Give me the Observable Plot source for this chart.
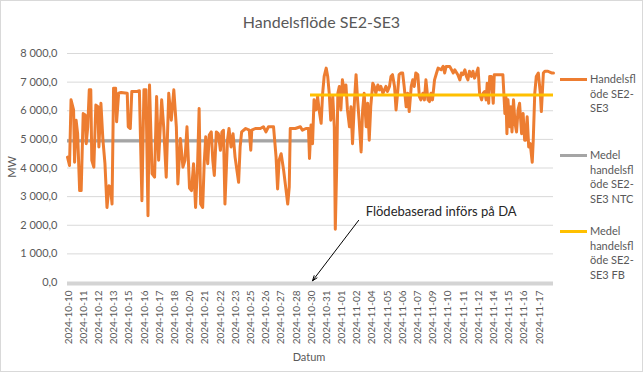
<!DOCTYPE html>
<html><head><meta charset="utf-8">
<script src="https://cdn.jsdelivr.net/npm/d3@7"></script>
<script src="https://cdn.jsdelivr.net/npm/@observablehq/plot@0.6"></script>
<style>
body{margin:0;background:#fff;font-family:Lato,"Open Sans",sans-serif;}
#chart{position:relative;width:643px;height:372px;overflow:hidden;background:#fff;}
#frame{position:absolute;left:0;top:0;width:641px;height:370px;border:1px solid #d9d9d9;pointer-events:none;}
#title{position:absolute;left:0;width:643px;top:12px;line-height:20px;text-align:center;font-size:16px;color:#595959;}
.axt{position:absolute;font-size:11px;color:#595959;line-height:14px;white-space:nowrap;}
.leg{position:absolute;left:560px;}
.sw{position:absolute;left:0;width:27px;height:3px;top:6px;}
.lt{position:absolute;left:30px;top:0;font-size:11px;line-height:14.5px;color:#595959;white-space:nowrap;}
#plot{position:absolute;left:0;top:0;}
</style></head>
<body>
<div id="chart">
  <div id="plot"></div>
  <div id="title">Handelsflöde SE2-SE3</div>
  <div class="axt" style="left:12px;top:167px;transform:translate(-50%,-50%) rotate(-90deg);">MW</div>
  <div class="axt" style="left:309px;top:357px;transform:translate(-50%,-50%);">Datum</div>
  <div class="leg" style="top:72px"><span class="sw" style="background:#ED7D31"></span><div class="lt">Handelsfl<br>öde SE2-<br>SE3</div></div>
  <div class="leg" style="top:148px"><span class="sw" style="background:#A5A5A5"></span><div class="lt">Medel<br>handelsfl<br>öde SE2-<br>SE3 NTC</div></div>
  <div class="leg" style="top:224px"><span class="sw" style="background:#FFC000"></span><div class="lt">Medel<br>handelsfl<br>öde SE2-<br>SE3 FB</div></div>
  <div id="frame"></div>
</div>
<script>
// Hour offsets from 2024-10-10 00:00 and trade flow (MW)
const hours = [0,4,7,12,14,17,20,24,27,31,35,37,40,43,46,48,52,56,60,62,66,70,74,78,82,85,88,91,95,97,101,106,118,120,124,127,136,142,147,151,155,159,162,167,172,176,180,186,190,195,200,205,210,215,218,223,228,232,236,241,245,
249,253,257,260,263,267,270,273,277,280,284,287,290,294,298,302,305,308,311,316,319,323,327,331,338,341,344,352,359,362,364,371,381,387,392,397,407,412,415,418,422,427,431,435,438,440,450,460,464,471,476,478,481,
484,487,491,494,497,501,504,507,511,514,517,520,524,527,529,532,534,537,540,543,547,550,553,557,560,563,567,570,573,576,580,583,586,590,593,596,599,603,606,609,613,616,619,623,626,629,632,636,639,642,646,649,652,655,659,662,665,669,672,675,679,682,685,688,692,695,698,702,705,708,712,715,718,721,725,
729,732,738,742,745,748,755,762,765,771,775,778,781,785,788,791,794,798,801,804,808,811,814,818,821,824,827,829,832,834,837,841,843,847,854,860,864,866,868,870,874,876,878,881,884,887,890,893,897,900,903,905,908,911,914,918,920,923,926,930,934,936,940,943,949,956,960];
const flow = [4380,4090,6380,6030,4200,5670,5200,3210,3210,5900,5850,4850,5440,6730,6730,4270,4030,6200,6140,4735,6260,4970,4150,2620,3380,3330,2740,6790,6790,5615,6610,6640,6610,5440,5380,6670,6670,6700,2860,6730,6730,2330,6900,3800,3680,6500,4270,6380,5440,3680,6610,5670,6730,5440,3440,5030,4030,4270,5440,3300,3210,
4150,2620,4150,6080,2740,2620,4150,5090,4150,5150,5260,4270,3740,5260,5200,4620,5260,5320,2740,4970,5380,4735,5200,4380,3500,4735,5260,5380,5320,4620,5320,5380,5380,5440,5260,5440,5440,4380,3270,4270,4500,3910,3330,2740,3330,5380,5380,5440,5320,5380,5380,4330,5500,
4850,6380,6030,6500,6030,5560,6610,7200,7490,7200,6610,5670,6500,5440,1860,4270,6610,6850,6030,7080,6610,6900,6030,5440,6140,4850,6380,7260,6380,5670,4560,6030,6610,5440,6260,4970,6140,6960,6850,6610,6900,6730,6850,6610,6730,6850,6670,6850,7200,7260,6850,6030,6610,7260,7320,7320,6850,6140,6610,5970,6850,7080,6850,7320,7260,6500,6380,6610,6380,7080,6380,6320,6610,6380,7080,
7320,7490,7430,7550,7320,7550,7550,7320,7430,7260,7080,7320,7260,7430,7200,7080,7380,7200,7380,7140,7320,7490,6610,6380,6610,6670,6380,6960,6260,7200,7200,6260,7260,7260,7260,7260,5900,6500,5200,6380,5440,6140,5260,6380,5560,5260,6030,6260,5200,5900,4970,4970,5790,4735,4850,4200,4970,6610,7200,7320,6610,5970,7320,7380,7380,7320,7320];

// Mean lines
const ntcMean = 4950, ntcRange = [0, 480];
const fbMean = 6550, fbRange = [480, 960];

// Axis ticks
const yTicks = [0,1000,2000,3000,4000,5000,6000,7000,8000];
const xTickLabels = ["2024-10-10","2024-10-11","2024-10-12","2024-10-13","2024-10-15","2024-10-16","2024-10-17","2024-10-18","2024-10-20","2024-10-21","2024-10-22","2024-10-23","2024-10-25","2024-10-26","2024-10-27","2024-10-28","2024-10-30","2024-10-31","2024-11-01","2024-11-02","2024-11-04","2024-11-05","2024-11-06","2024-11-07","2024-11-09","2024-11-10","2024-11-11","2024-11-12","2024-11-14","2024-11-15","2024-11-16","2024-11-17"];
const labelStep = 30; // hours per labelled category
const xTickPos = xTickLabels.map((_, i) => i * labelStep + 2);

// Annotation
const noteText = "Flödebaserad införs på DA";
const noteAt = {x: 589, y: 2460};
const arrowFrom = {x: 575, y: 2170};
const arrowTo = {x: 484, y: 60};

const fmtY = v => d3.format(",.1f")(v).replace(/,/g, " ").replace(".", ",");
const lookupX = d => xTickLabels[Math.round((d - 2) / labelStep)];

const chart = Plot.plot({
  width: 643, height: 372,
  marginLeft: 67, marginRight: 90, marginTop: 53, marginBottom: 90,
  style: {fontFamily: "Lato, sans-serif", color: "#595959", background: "transparent", overflow: "visible"},
  x: {domain: [0, 960], axis: null},
  y: {domain: [0, 8000], axis: null},
  marks: [
    Plot.ruleY(yTicks.filter(d => d > 0), {stroke: "#d9d9d9", strokeWidth: 1}),
    Plot.ruleY([0], {stroke: "#d4d4d4", strokeWidth: 4, dy: 1}),
    Plot.axisY(yTicks, {tickSize: 0, tickPadding: 10, tickFormat: fmtY, fontSize: 11, fill: "#595959", label: null}),
    Plot.axisX(xTickPos, {tickSize: 0, tickPadding: 8, tickRotate: -90, tickFormat: lookupX, fontSize: 10, fill: "#595959", label: null}),
    Plot.ruleY([{y: ntcMean, x1: ntcRange[0], x2: ntcRange[1]}], {y: "y", x1: "x1", x2: "x2", stroke: "#A5A5A5", strokeWidth: 3.2}),
    Plot.line(flow, {x: hours, y: flow, stroke: "#ED7D31", strokeWidth: 3, strokeLinejoin: "round", curve: "linear"}),
    Plot.ruleY([{y: fbMean, x1: fbRange[0], x2: fbRange[1]}], {y: "y", x1: "x1", x2: "x2", stroke: "#FFC000", strokeWidth: 3.2}),
    Plot.arrow([{...arrowFrom, x2: arrowTo.x, y2: arrowTo.y}], {x1: "x", y1: "y", x2: "x2", y2: "y2", stroke: "#000", strokeWidth: 1, headLength: 8, headAngle: 40}),
    Plot.text([noteAt], {x: "x", y: "y", text: () => noteText, textAnchor: "start", fontSize: 13, fill: "#262626"})
  ]
});
document.getElementById("plot").appendChild(chart);
</script>
</body></html>
